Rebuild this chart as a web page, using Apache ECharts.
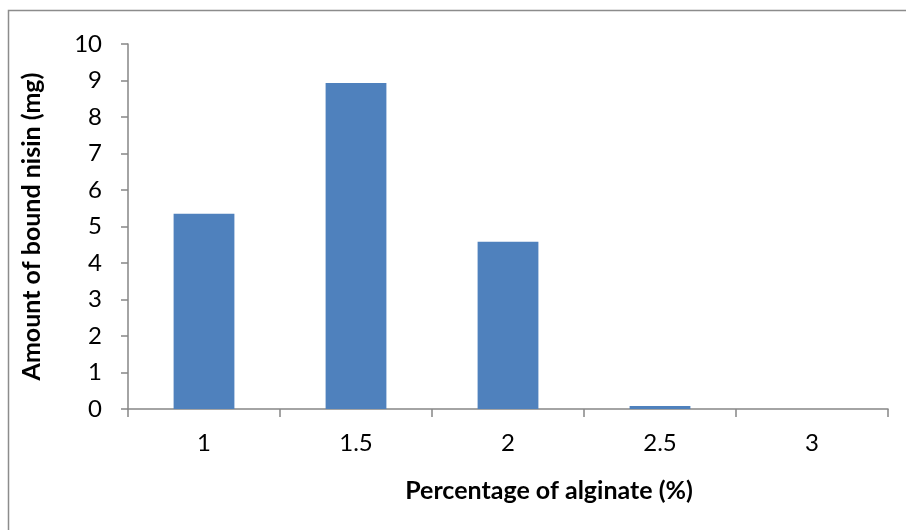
<!DOCTYPE html>
<html>
<head>
<meta charset="utf-8">
<script src="https://cdn.jsdelivr.net/npm/echarts@6/dist/echarts.min.js"></script>
<style>
  html, body { margin: 0; padding: 0; background: #fff; }
  #chart { width: 906px; height: 530px; }
</style>
</head>
<body>
<div id="chart"></div>
<script>
// Alginate concentration (%) and the amount of nisin bound (mg)
const categories = ['1', '1.5', '2', '2.5', '3'];
const boundNisin = [5.35, 8.93, 4.58, 0.08, 0];
const yTicks = { min: 0, max: 10, interval: 1 };

const FONT = 'Lato';
const AXIS_GREY = '#868686';

const chart = echarts.init(document.getElementById('chart'), null, { renderer: 'canvas' });

chart.setOption({
  backgroundColor: '#ffffff',
  animation: false,
  graphic: [{
    type: 'rect',
    shape: { x: 8.5, y: 10.5, width: 920, height: 540 },
    style: { fill: 'none', stroke: '#8c8c8c', lineWidth: 1.5 },
    silent: true
  }],
  grid: { left: 128, right: 18, top: 44, bottom: 121 },
  xAxis: {
    type: 'category',
    data: categories,
    boundaryGap: true,
    name: 'Percentage of alginate (%)',
    nameLocation: 'middle',
    nameGap: 69,
    nameTextStyle: { fontFamily: FONT, fontWeight: 'bold', fontSize: 25, color: '#000', padding: [0, 0, 0, 82] },
    axisLine: { lineStyle: { color: AXIS_GREY, width: 1.5 } },
    axisTick: { show: true, inside: false, length: 8, alignWithLabel: false, lineStyle: { color: AXIS_GREY, width: 1.5 } },
    axisLabel: { margin: 22, fontFamily: FONT, fontSize: 24, color: '#000' },
    splitLine: { show: false }
  },
  yAxis: {
    type: 'value',
    min: yTicks.min,
    max: yTicks.max,
    interval: yTicks.interval,
    name: 'Amount of bound nisin (mg)',
    nameLocation: 'middle',
    nameGap: 84,
    nameTextStyle: { fontFamily: FONT, fontWeight: 'bold', fontSize: 25, color: '#000' },
    axisLine: { show: true, lineStyle: { color: AXIS_GREY, width: 1.5 } },
    axisTick: { show: true, inside: false, length: 7, lineStyle: { color: AXIS_GREY, width: 1.5 } },
    axisLabel: { margin: 26, fontFamily: FONT, fontSize: 24, color: '#000' },
    splitLine: { show: false }
  },
  series: [{
    type: 'bar',
    data: boundNisin,
    barWidth: '40%',
    itemStyle: { color: '#4F81BD' }
  }]
});
</script>
</body>
</html>
